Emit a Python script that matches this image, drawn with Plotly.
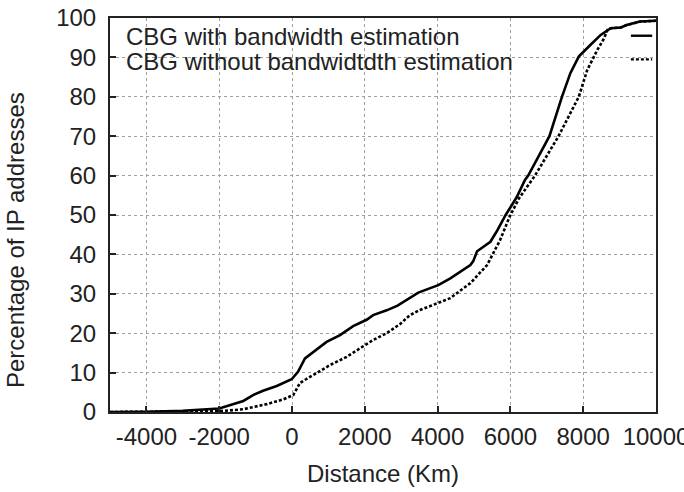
import plotly.graph_objects as go

# CBG with bandwidth estimation (solid)
with_x = [-5000, -4000, -3000, -2000, -1338, -1070, -795, -420, -10, 165, 357, 585, 950, 1320, 1680, 2050, 2230, 2600, 2900, 3470, 3800, 4019, 4350, 4900, 4980, 5085, 5450, 5622, 5870, 6172, 6400, 6489, 7072, 7416, 7647, 7878, 8203, 8481, 8758, 9036, 9193, 9560, 10000]
with_y = [0, 0.05, 0.3, 0.9, 2.8, 4.3, 5.4, 6.6, 8.3, 10.2, 13.6, 15.3, 17.8, 19.5, 21.8, 23.4, 24.6, 25.8, 27.0, 30.3, 31.4, 32.2, 33.9, 37.3, 38.3, 40.8, 43.2, 45.8, 50.0, 54.5, 58.9, 60.0, 70.0, 80.0, 86.0, 90.2, 93.2, 95.7, 97.4, 97.6, 98.2, 99.1, 99.3]

# CBG without bandwidth estimation (dotted)
without_x = [-5000, -4000, -3000, -2000, -1338, -695, -240, 35, 220, 585, 1043, 1500, 1958, 2233, 2600, 2966, 3241, 3516, 3800, 4350, 4900, 5360, 5720, 5980, 6235, 6550, 6675, 7322, 7878, 8111, 8389, 8572, 8667, 8758, 9036, 9193, 9560, 10000]
without_y = [0, 0.02, 0.08, 0.2, 0.7, 2.0, 3.2, 4.3, 7.4, 9.4, 11.9, 14.0, 16.6, 18.3, 20.0, 22.3, 24.6, 25.9, 26.9, 28.9, 32.7, 37.3, 43.7, 49.6, 54.2, 58.6, 60.0, 70.0, 80.0, 86.8, 91.9, 94.8, 97.0, 97.4, 97.6, 98.2, 99.1, 99.3]

x_ticks = [-4000, -2000, 0, 2000, 4000, 6000, 8000, 10000]
y_ticks = [0, 10, 20, 30, 40, 50, 60, 70, 80, 90, 100]
legend_labels = ["CBG with bandwidth estimation", "CBG without bandwidtdth estimation"]

FONT = "Liberation Sans, Arial, sans-serif"
FS = 24
TXT = "#222222"

fig = go.Figure()
fig.add_trace(go.Scatter(x=with_x, y=with_y, mode="lines",
                         line=dict(color="black", width=2.6), showlegend=False))
fig.add_trace(go.Scatter(x=without_x, y=without_y, mode="lines",
                         line=dict(color="black", width=2.6, dash="3px,2px"), showlegend=False))

# white key background that hides the grid (below traces)
fig.add_shape(type="rect", xref="x domain", yref="y", x0=0, x1=1, y0=86, y1=98.5,
              fillcolor="white", line=dict(width=0), layer="below")

# key samples
fig.add_shape(type="line", xref="x domain", yref="y", x0=0.954, x1=0.993, y0=95.5, y1=95.5,
              line=dict(color="black", width=2.4))
fig.add_shape(type="line", xref="x domain", yref="y", x0=0.954, x1=0.993, y0=89.5, y1=89.5,
              line=dict(color="black", width=2.4, dash="3px,2px"))

for lab, yy in zip(legend_labels, [95.3, 89.0]):
    fig.add_annotation(text=lab, xref="x domain", yref="y", x=0.026, y=yy,
                       xanchor="left", yanchor="middle", showarrow=False,
                       font=dict(family=FONT, size=FS, color=TXT))

fig.add_annotation(text="Distance (Km)", xref="paper", yref="paper",
                   x=(382.5 - 110) / 546, y=(412 - 474) / 394,
                   xanchor="center", yanchor="middle", showarrow=False,
                   font=dict(family=FONT, size=FS, color=TXT))
fig.add_annotation(text="Percentage of IP addresses", xref="paper", yref="paper",
                   x=(15 - 110) / 546, y=(412 - 240) / 394, textangle=-90,
                   xanchor="center", yanchor="middle", showarrow=False,
                   font=dict(family=FONT, size=FS, color=TXT))

axis_common = dict(showgrid=True, gridcolor="#a0a0a0", griddash="dot", gridwidth=1,
                   showline=True, linecolor="#222222", linewidth=2, mirror=True,
                   ticks="inside", ticklen=6, tickcolor="#222222", tickwidth=1.5,
                   zeroline=False, automargin=False,
                   tickfont=dict(family=FONT, size=FS, color=TXT))

fig.update_xaxes(range=[-5000, 10000], tickvals=x_ticks, ticktext=[str(v) for v in x_ticks],
                 ticklabeloverflow="allow", ticklabelstandoff=2, **axis_common)
fig.update_yaxes(range=[0, 100], tickvals=y_ticks, ticklabelstandoff=7, **axis_common)

fig.update_layout(width=684, height=492,
                  margin=dict(l=110, r=28, t=18, b=80, autoexpand=False),
                  plot_bgcolor="white", paper_bgcolor="white",
                  showlegend=False)

fig.write_html("out.html")
